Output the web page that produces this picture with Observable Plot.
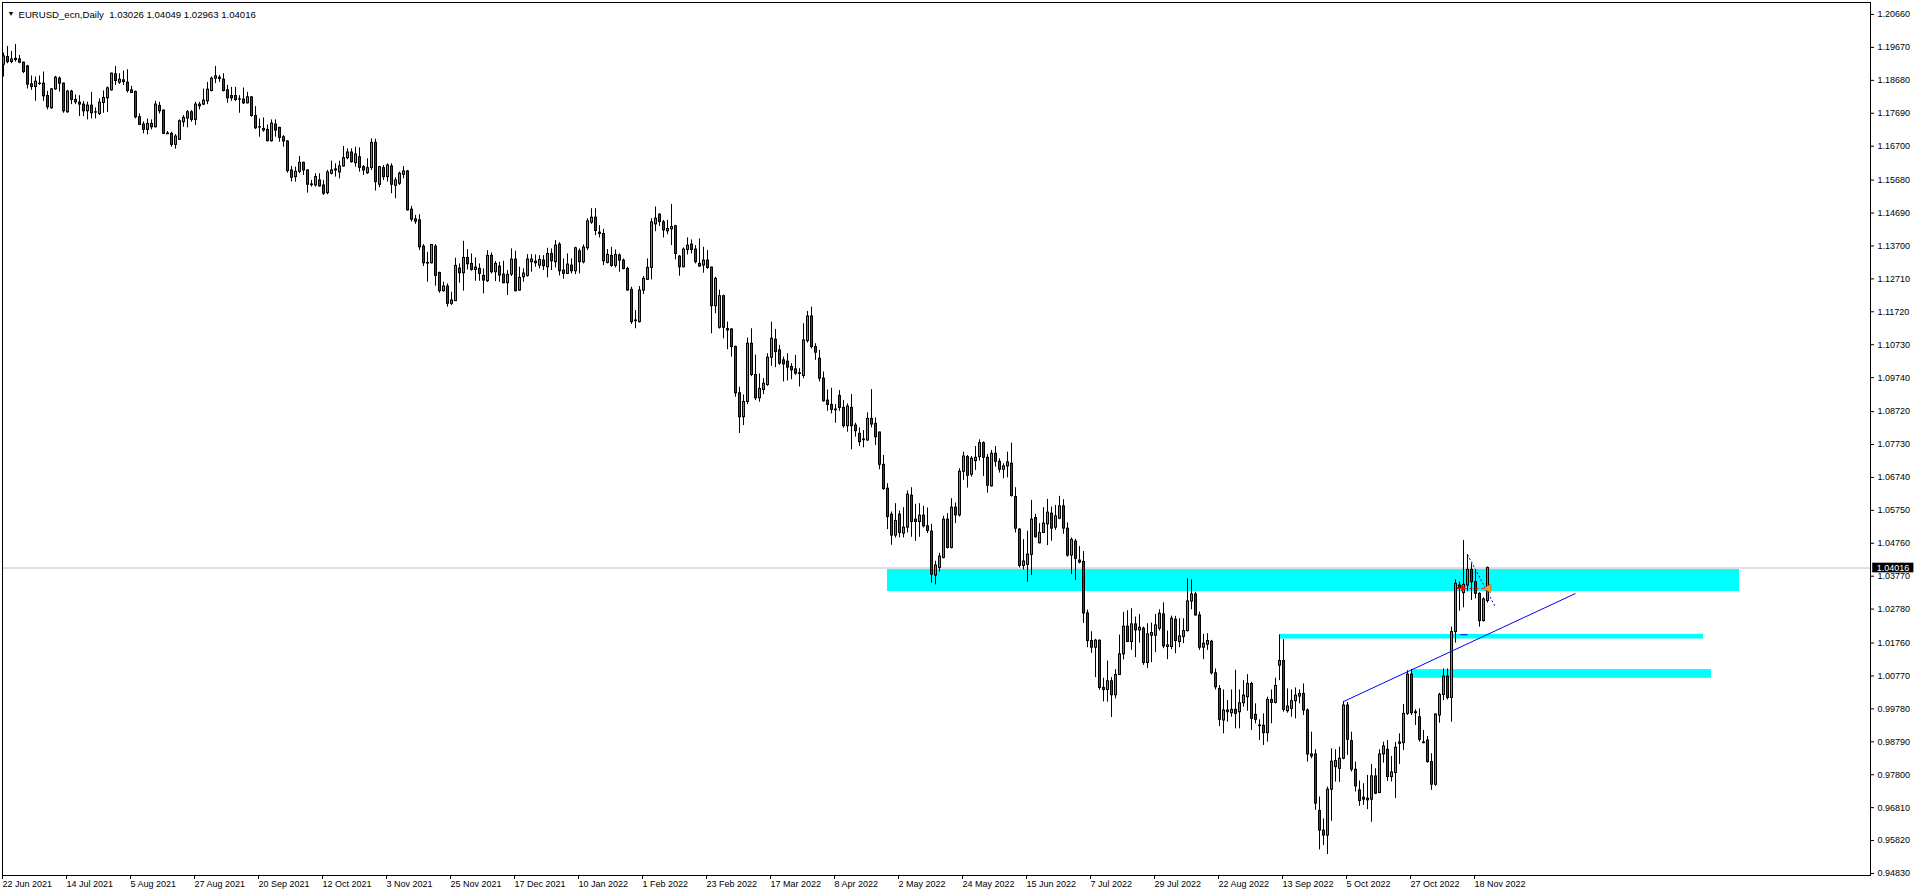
<!DOCTYPE html>
<html><head><meta charset="utf-8">
<script src="https://cdn.jsdelivr.net/npm/d3@7"></script>
<script src="https://cdn.jsdelivr.net/npm/@observablehq/plot@0.6"></script>
<style>
html,body{margin:0;padding:0;background:#fff;overflow:hidden}
svg{display:block}
</style></head><body>
<script>
// Daily EURUSD candles [open, high, low, close], one per trading day from 22 Jun 2021
const ohlc = [
[1.1915,1.1950,1.1878,1.1940],[1.1938,1.1970,1.1918,1.1923],[1.1923,1.1955,1.1918,1.1931],[1.1929,1.1976,1.1923,1.1933],[1.1931,1.1943,1.1918,1.1921],
[1.1921,1.1923,1.1888,1.1893],[1.1910,1.1913,1.1842,1.1855],[1.1856,1.1881,1.1838,1.1848],[1.1848,1.1878,1.1805,1.1864],[1.1858,1.1881,1.1853,1.1857],
[1.1858,1.1893,1.1805,1.1820],[1.1821,1.1835,1.1779,1.1787],[1.1784,1.1843,1.1781,1.1841],[1.1841,1.1880,1.1838,1.1876],[1.1873,1.1878,1.1833,1.1858],
[1.1858,1.1860,1.1769,1.1775],[1.1772,1.1838,1.1769,1.1834],[1.1834,1.1838,1.1795,1.1809],[1.1809,1.1824,1.1795,1.1802],[1.1801,1.1822,1.1759,1.1795],
[1.1795,1.1804,1.1759,1.1775],[1.1775,1.1802,1.1749,1.1792],[1.1792,1.1832,1.1752,1.1769],[1.1772,1.1785,1.1752,1.1771],[1.1767,1.1812,1.1762,1.1801],
[1.1800,1.1836,1.1769,1.1815],[1.1814,1.1848,1.1771,1.1844],[1.1838,1.1890,1.1836,1.1888],[1.1886,1.1910,1.1853,1.1866],[1.1861,1.1888,1.1856,1.1870],
[1.1868,1.1896,1.1853,1.1863],[1.1861,1.1900,1.1830,1.1836],[1.1838,1.1850,1.1828,1.1830],[1.1833,1.1836,1.1752,1.1757],[1.1757,1.1767,1.1732,1.1734],
[1.1735,1.1743,1.1707,1.1719],[1.1719,1.1752,1.1704,1.1737],[1.1737,1.1749,1.1719,1.1727],[1.1727,1.1805,1.1725,1.1795],[1.1791,1.1802,1.1767,1.1775],
[1.1777,1.1779,1.1705,1.1707],[1.1708,1.1714,1.1705,1.1706],[1.1707,1.1712,1.1667,1.1674],[1.1674,1.1705,1.1661,1.1699],[1.1689,1.1749,1.1687,1.1745],
[1.1742,1.1762,1.1727,1.1755],[1.1753,1.1777,1.1725,1.1772],[1.1772,1.1777,1.1742,1.1749],[1.1749,1.1802,1.1732,1.1795],[1.1795,1.1802,1.1779,1.1790],
[1.1795,1.1842,1.1792,1.1807],[1.1805,1.1862,1.1795,1.1840],[1.1836,1.1878,1.1833,1.1873],[1.1873,1.1910,1.1858,1.1880],[1.1876,1.1883,1.1862,1.1872],
[1.1870,1.1888,1.1833,1.1836],[1.1838,1.1853,1.1799,1.1814],[1.1821,1.1847,1.1805,1.1814],[1.1821,1.1847,1.1804,1.1809],[1.1811,1.1822,1.1769,1.1810],
[1.1810,1.1845,1.1795,1.1799],[1.1799,1.1832,1.1797,1.1817],[1.1817,1.1818,1.1757,1.1761],[1.1761,1.1789,1.1720,1.1724],[1.1727,1.1752,1.1697,1.1726],
[1.1717,1.1755,1.1712,1.1722],[1.1719,1.1734,1.1683,1.1685],[1.1685,1.1749,1.1682,1.1738],[1.1735,1.1749,1.1697,1.1717],[1.1725,1.1727,1.1682,1.1695],
[1.1697,1.1702,1.1667,1.1684],[1.1684,1.1687,1.1589,1.1595],[1.1597,1.1609,1.1562,1.1575],[1.1577,1.1607,1.1562,1.1593],[1.1593,1.1639,1.1587,1.1620],
[1.1620,1.1622,1.1582,1.1597],[1.1597,1.1599,1.1529,1.1554],[1.1555,1.1567,1.1547,1.1553],[1.1552,1.1587,1.1547,1.1577],[1.1567,1.1587,1.1547,1.1549],
[1.1552,1.1567,1.1522,1.1527],[1.1529,1.1597,1.1524,1.1591],[1.1587,1.1625,1.1584,1.1597],[1.1597,1.1617,1.1577,1.1600],[1.1591,1.1625,1.1572,1.1609],
[1.1609,1.1669,1.1607,1.1634],[1.1634,1.1662,1.1629,1.1651],[1.1651,1.1662,1.1619,1.1622],[1.1619,1.1667,1.1607,1.1645],[1.1637,1.1665,1.1592,1.1605],
[1.1607,1.1612,1.1582,1.1597],[1.1589,1.1632,1.1585,1.1604],[1.1604,1.1692,1.1597,1.1680],[1.1680,1.1691,1.1535,1.1562],[1.1554,1.1609,1.1545,1.1607],
[1.1604,1.1612,1.1567,1.1577],[1.1577,1.1617,1.1562,1.1612],[1.1609,1.1617,1.1527,1.1554],[1.1551,1.1575,1.1512,1.1567],[1.1557,1.1592,1.1552,1.1587],
[1.1584,1.1609,1.1572,1.1594],[1.1594,1.1597,1.1475,1.1477],[1.1479,1.1489,1.1442,1.1449],[1.1450,1.1462,1.1435,1.1443],[1.1447,1.1464,1.1356,1.1366],
[1.1368,1.1374,1.1308,1.1318],[1.1319,1.1351,1.1261,1.1317],[1.1318,1.1374,1.1316,1.1373],[1.1368,1.1374,1.1249,1.1280],[1.1289,1.1291,1.1228,1.1234],
[1.1234,1.1261,1.1231,1.1248],[1.1248,1.1256,1.1186,1.1196],[1.1196,1.1231,1.1191,1.1206],[1.1204,1.1333,1.1203,1.1310],[1.1302,1.1316,1.1258,1.1288],
[1.1288,1.1384,1.1234,1.1334],[1.1334,1.1359,1.1298,1.1315],[1.1316,1.1346,1.1294,1.1298],[1.1298,1.1334,1.1264,1.1305],[1.1301,1.1316,1.1264,1.1286],
[1.1280,1.1301,1.1226,1.1266],[1.1264,1.1356,1.1260,1.1340],[1.1340,1.1349,1.1286,1.1291],[1.1291,1.1323,1.1263,1.1316],[1.1308,1.1321,1.1261,1.1281],
[1.1284,1.1324,1.1256,1.1258],[1.1258,1.1296,1.1221,1.1283],[1.1284,1.1361,1.1278,1.1329],[1.1329,1.1354,1.1232,1.1234],[1.1236,1.1306,1.1234,1.1274],
[1.1276,1.1301,1.1261,1.1287],[1.1280,1.1344,1.1276,1.1329],[1.1321,1.1344,1.1291,1.1329],[1.1323,1.1343,1.1306,1.1318],[1.1311,1.1341,1.1301,1.1328],
[1.1326,1.1341,1.1296,1.1309],[1.1306,1.1363,1.1274,1.1346],[1.1346,1.1361,1.1296,1.1324],[1.1321,1.1386,1.1304,1.1371],[1.1374,1.1380,1.1280,1.1294],
[1.1296,1.1331,1.1270,1.1286],[1.1286,1.1346,1.1284,1.1314],[1.1311,1.1331,1.1286,1.1294],[1.1294,1.1366,1.1284,1.1363],[1.1354,1.1361,1.1286,1.1321],
[1.1321,1.1373,1.1316,1.1365],[1.1363,1.1452,1.1356,1.1444],[1.1440,1.1482,1.1435,1.1455],[1.1455,1.1482,1.1401,1.1415],[1.1410,1.1431,1.1394,1.1406],
[1.1406,1.1420,1.1311,1.1324],[1.1319,1.1359,1.1316,1.1343],[1.1340,1.1366,1.1306,1.1310],[1.1310,1.1358,1.1304,1.1343],[1.1341,1.1346,1.1291,1.1326],
[1.1326,1.1331,1.1298,1.1301],[1.1301,1.1306,1.1234,1.1236],[1.1238,1.1246,1.1134,1.1141],[1.1144,1.1176,1.1121,1.1146],[1.1141,1.1248,1.1138,1.1236],
[1.1236,1.1278,1.1224,1.1271],[1.1268,1.1331,1.1266,1.1304],[1.1304,1.1452,1.1268,1.1441],[1.1435,1.1487,1.1413,1.1452],[1.1464,1.1467,1.1429,1.1442],
[1.1441,1.1447,1.1394,1.1417],[1.1414,1.1447,1.1404,1.1421],[1.1420,1.1495,1.1371,1.1427],[1.1429,1.1432,1.1328,1.1346],[1.1338,1.1341,1.1279,1.1306],
[1.1306,1.1364,1.1304,1.1359],[1.1358,1.1394,1.1343,1.1371],[1.1374,1.1388,1.1346,1.1358],[1.1359,1.1371,1.1316,1.1321],[1.1316,1.1391,1.1306,1.1308],
[1.1311,1.1366,1.1288,1.1326],[1.1326,1.1356,1.1300,1.1304],[1.1305,1.1306,1.1106,1.1189],[1.1189,1.1276,1.1166,1.1271],[1.1124,1.1237,1.1120,1.1219],
[1.1219,1.1222,1.1091,1.1124],[1.1120,1.1141,1.1058,1.1116],[1.1119,1.1121,1.1036,1.1066],[1.1066,1.1069,1.0915,1.0927],[1.0927,1.0945,1.0806,1.0855],
[1.0855,1.0922,1.0830,1.0901],[1.0901,1.1093,1.0893,1.1076],[1.1076,1.1121,1.0977,1.0982],[1.0982,1.1042,1.0905,1.0912],[1.0912,1.0985,1.0900,1.0940],
[1.0937,1.0971,1.0923,1.0956],[1.0952,1.1046,1.0948,1.1034],[1.1034,1.1141,1.1008,1.1091],[1.1088,1.1119,1.1004,1.1051],[1.1056,1.1071,1.1011,1.1016],
[1.1026,1.1036,1.0961,1.1014],[1.1022,1.1046,1.0964,1.1004],[1.1006,1.1016,1.0968,1.0996],[1.0999,1.1041,1.0981,1.0986],[1.0985,1.1001,1.0946,1.0987],
[1.0979,1.1136,1.0971,1.1086],[1.1084,1.1173,1.1078,1.1158],[1.1158,1.1186,1.1060,1.1066],[1.1066,1.1076,1.1026,1.1049],[1.1031,1.1056,1.0961,1.0971],
[1.0971,1.0991,1.0900,1.0903],[1.0905,1.0937,1.0873,1.0892],[1.0892,1.0942,1.0865,1.0877],[1.0878,1.0893,1.0837,1.0876],[1.0919,1.0935,1.0873,1.0883],
[1.0883,1.0905,1.0822,1.0828],[1.0828,1.0895,1.0810,1.0887],[1.0883,1.0923,1.0757,1.0828],[1.0830,1.0837,1.0795,1.0813],[1.0805,1.0823,1.0767,1.0780],
[1.0786,1.0815,1.0763,1.0788],[1.0785,1.0868,1.0783,1.0850],[1.0850,1.0938,1.0823,1.0833],[1.0835,1.0853,1.0770,1.0795],[1.0809,1.0810,1.0697,1.0712],
[1.0712,1.0740,1.0635,1.0639],[1.0640,1.0655,1.0517,1.0555],[1.0562,1.0570,1.0470,1.0499],[1.0499,1.0595,1.0492,1.0543],[1.0562,1.0573,1.0492,1.0507],
[1.0505,1.0583,1.0492,1.0523],[1.0523,1.0633,1.0507,1.0622],[1.0619,1.0643,1.0494,1.0540],[1.0547,1.0593,1.0482,1.0540],[1.0540,1.0595,1.0494,1.0559],
[1.0559,1.0587,1.0522,1.0527],[1.0527,1.0582,1.0505,1.0513],[1.0511,1.0533,1.0356,1.0382],[1.0379,1.0422,1.0351,1.0409],[1.0402,1.0446,1.0389,1.0436],
[1.0432,1.0557,1.0429,1.0547],[1.0547,1.0565,1.0459,1.0462],[1.0462,1.0610,1.0459,1.0583],[1.0583,1.0597,1.0535,1.0560],[1.0560,1.0700,1.0555,1.0691],
[1.0691,1.0750,1.0665,1.0737],[1.0735,1.0740,1.0642,1.0679],[1.0682,1.0737,1.0675,1.0730],[1.0723,1.0767,1.0695,1.0733],[1.0735,1.0787,1.0723,1.0777],
[1.0777,1.0781,1.0677,1.0733],[1.0733,1.0743,1.0627,1.0649],[1.0647,1.0755,1.0645,1.0745],[1.0745,1.0767,1.0705,1.0721],[1.0721,1.0730,1.0687,1.0697],
[1.0697,1.0715,1.0670,1.0707],[1.0707,1.0750,1.0673,1.0719],[1.0715,1.0777,1.0615,1.0618],[1.0615,1.0643,1.0507,1.0520],[1.0517,1.0520,1.0402,1.0408],
[1.0408,1.0487,1.0396,1.0421],[1.0411,1.0512,1.0359,1.0442],[1.0441,1.0605,1.0379,1.0547],[1.0552,1.0563,1.0492,1.0494],[1.0476,1.0535,1.0474,1.0507],
[1.0507,1.0583,1.0505,1.0535],[1.0533,1.0608,1.0469,1.0568],[1.0565,1.0585,1.0482,1.0520],[1.0523,1.0590,1.0515,1.0557],[1.0550,1.0617,1.0547,1.0587],
[1.0587,1.0607,1.0503,1.0520],[1.0520,1.0537,1.0434,1.0439],[1.0439,1.0492,1.0382,1.0486],[1.0481,1.0488,1.0364,1.0429],[1.0424,1.0466,1.0414,1.0418],
[1.0420,1.0451,1.0235,1.0265],[1.0265,1.0275,1.0162,1.0182],[1.0182,1.0210,1.0145,1.0162],[1.0162,1.0187,1.0072,1.0183],[1.0183,1.0185,1.0034,1.0041],
[1.0041,1.0070,0.9999,1.0035],[1.0035,1.0122,0.9998,1.0061],[1.0061,1.0072,0.9952,1.0019],[1.0019,1.0096,1.0008,1.0080],[1.0080,1.0200,1.0080,1.0142],
[1.0142,1.0268,1.0125,1.0225],[1.0225,1.0273,1.0180,1.0179],[1.0179,1.0279,1.0154,1.0232],[1.0232,1.0254,1.0132,1.0214],[1.0214,1.0262,1.0176,1.0222],
[1.0219,1.0224,1.0109,1.0116],[1.0116,1.0234,1.0099,1.0202],[1.0198,1.0236,1.0117,1.0206],[1.0198,1.0262,1.0147,1.0229],[1.0219,1.0276,1.0212,1.0264],
[1.0262,1.0297,1.0159,1.0166],[1.0164,1.0212,1.0126,1.0169],[1.0164,1.0257,1.0156,1.0249],[1.0246,1.0256,1.0144,1.0182],[1.0179,1.0249,1.0162,1.0196],
[1.0194,1.0249,1.0174,1.0212],[1.0212,1.0369,1.0209,1.0301],[1.0301,1.0366,1.0276,1.0322],[1.0322,1.0329,1.0257,1.0259],[1.0259,1.0269,1.0154,1.0162],
[1.0162,1.0202,1.0126,1.0174],[1.0171,1.0204,1.0154,1.0182],[1.0180,1.0184,1.0080,1.0085],[1.0085,1.0098,1.0035,1.0043],[1.0038,1.0048,0.9925,0.9945],
[0.9943,1.0035,0.9903,0.9973],[0.9968,1.0003,0.9938,0.9973],[0.9965,1.0035,0.9953,0.9975],[0.9975,1.0094,0.9918,0.9963],[0.9968,1.0035,0.9918,0.9995],
[0.9995,1.0063,0.9983,1.0018],[1.0013,1.0081,0.9971,1.0053],[1.0053,1.0058,0.9913,0.9948],[0.9960,0.9993,0.9933,0.9945],[0.9928,0.9945,0.9883,0.9926],
[0.9927,0.9963,0.9868,0.9905],[0.9905,1.0013,0.9878,1.0005],[1.0005,1.0035,0.9933,0.9996],[0.9996,1.0070,0.9993,1.0047],[1.0108,1.0200,1.0063,1.0122],
[1.0122,1.0186,0.9968,0.9975],[0.9971,1.0038,0.9965,0.9985],[0.9978,1.0035,0.9953,1.0001],[1.0001,1.0041,0.9948,1.0018],[1.0015,1.0035,0.9993,1.0023],
[1.0023,1.0053,0.9958,0.9973],[0.9973,0.9978,0.9818,0.9841],[0.9841,0.9908,0.9828,0.9835],[0.9841,0.9855,0.9673,0.9693],[0.9671,0.9713,0.9554,0.9612],
[0.9612,0.9647,0.9567,0.9597],[0.9597,0.9743,0.9540,0.9735],[0.9735,0.9858,0.9640,0.9819],[0.9803,0.9855,0.9758,0.9821],[0.9798,0.9863,0.9757,0.9828],
[0.9828,1.0000,0.9825,0.9988],[0.9988,0.9997,0.9838,0.9885],[0.9881,0.9908,0.9788,0.9795],[0.9795,0.9818,0.9728,0.9745],[0.9733,0.9761,0.9685,0.9701],
[0.9711,0.9753,0.9688,0.9705],[0.9708,0.9778,0.9675,0.9703],[0.9705,0.9811,0.9637,0.9775],[0.9775,0.9798,0.9720,0.9723],[0.9725,0.9855,0.9723,0.9841],
[0.9841,0.9878,0.9815,0.9865],[0.9855,0.9883,0.9760,0.9773],[0.9773,0.9835,0.9758,0.9787],[0.9785,0.9877,0.9708,0.9861],[0.9873,0.9903,0.9811,0.9877],
[0.9875,0.9991,0.9853,0.9963],[0.9963,1.0093,0.9958,1.0081],[1.0081,1.0096,0.9958,0.9965],[0.9968,0.9975,0.9928,0.9965],[0.9953,0.9978,0.9878,0.9885],
[0.9877,0.9913,0.9873,0.9875],[0.9883,0.9895,0.9815,0.9818],[0.9818,0.9843,0.9733,0.9750],[0.9750,0.9963,0.9745,0.9961],[0.9958,1.0025,0.9935,1.0020],
[1.0020,1.0098,1.0003,1.0075],[1.0075,1.0098,1.0005,1.0011],[1.0011,1.0224,0.9938,1.0209],[1.0209,1.0366,1.0176,1.0354],[1.0349,1.0359,1.0272,1.0342],
[1.0326,1.0484,1.0282,1.0351],[1.0349,1.0442,1.0330,1.0396],[1.0396,1.0414,1.0304,1.0359],[1.0359,1.0396,1.0309,1.0324],[1.0324,1.0327,1.0224,1.0242],
[1.0242,1.0312,1.0239,1.0307],[1.03026,1.04049,1.02963,1.04016]
];
const firstDay = "2021-06-22";
const xTickLabels = ["22 Jun 2021","14 Jul 2021","5 Aug 2021","27 Aug 2021","20 Sep 2021","12 Oct 2021","3 Nov 2021","25 Nov 2021","17 Dec 2021","10 Jan 2022","1 Feb 2022","23 Feb 2022","17 Mar 2022","8 Apr 2022","2 May 2022","24 May 2022","15 Jun 2022","7 Jul 2022","29 Jul 2022","22 Aug 2022","13 Sep 2022","5 Oct 2022","27 Oct 2022","18 Nov 2022"];
const yTickValues = [1.20660,1.19670,1.18680,1.17690,1.16700,1.15680,1.14690,1.13700,1.12710,1.11720,1.10730,1.09740,1.08720,1.07730,1.06740,1.05750,1.04760,1.03770,1.02780,1.01760,1.00770,0.99780,0.98790,0.97800,0.96810,0.95820,0.94830];
const lastPrice = 1.04016;
const symbolTitle = "EURUSD_ecn,Daily  1.03026 1.04049 1.02963 1.04016";
// support/resistance rectangles: bar index range and price range
const zoneStart = [221, 319, 352];
const zoneEnd = [434, 425, 427];
const zoneLow = [1.0331, 1.0188, 1.0070];
const zoneHigh = [1.0397, 1.0202, 1.0096];
// trend lines: [bar1, price1, bar2, price2]
const trendSolid = [[335, 1.0000, 393, 1.0325], [364.2, 1.0201, 366, 1.0201]];
const trendDotted = [[366, 1.0442, 372.9, 1.0286]];
// trade marks
const tradeOpen = {bar: 365, price: 1.0340};
const tradeClose = {bar: 371.2, price: 1.0340};

const GREEN = "#3cb03c", RED = "#dd0000";
const font = "'Liberation Sans', Arial, sans-serif";

// trading-day calendar
const dates = [];
{
  let d = new Date(firstDay + "T00:00:00Z");
  while (dates.length < ohlc.length) {
    const wd = d.getUTCDay();
    if (wd !== 0 && wd !== 6) dates.push(new Date(d));
    d = new Date(d.getTime() + 86400000);
  }
}
const parse = d3.utcParse("%e %b %Y");
const tickIndex = xTickLabels.map(s => {
  const t = parse(s).getTime();
  return dates.findIndex(d => d.getTime() === t);
});
const labelOf = new Map(tickIndex.map((i, k) => [i, xTickLabels[k]]));

const bars = ohlc.map(([o, h, l, c], i) => ({i, o, h, l, c, up: c >= o, top: Math.max(o, c), bot: Math.min(o, c)}));
const zones = zoneStart.map((s, k) => ({s, e: zoneEnd[k], lo: zoneLow[k], hi: zoneHigh[k]}));
const toSeg = a => ({x1: a[0], y1: a[1], x2: a[2], y2: a[3]});

const chart = Plot.plot({
  width: 1916, height: 896,
  marginLeft: 2, marginRight: 46, marginTop: 2, marginBottom: 21,
  style: {fontFamily: font, fontSize: "9px", color: "#000", background: "#fff"},
  x: {type: "linear", domain: [-0.25, 466.75], axis: null},
  y: {type: "linear", domain: [0.947697, 1.210208], axis: null},
  marks: [
    Plot.rect(zones, {x1: "s", x2: "e", y1: "lo", y2: "hi", fill: "#00ffff"}),
    Plot.ruleY([lastPrice], {stroke: "#c0c0c0"}),
    // wicks
    Plot.ruleX(bars, {x: "i", y1: d => Math.max(d.h, d.top), y2: d => Math.min(d.l, d.bot), stroke: "#000", strokeWidth: 1}),
    // body outline (3px) and body fill (1px)
    Plot.ruleX(bars, {x: "i", y1: "top", y2: "bot", stroke: "#000", strokeWidth: 3, insetTop: -0.5, insetBottom: -0.5, strokeLinecap: "butt"}),
    Plot.ruleX(bars.filter(d => d.top - d.bot > 0.0004), {x: "i", y1: "top", y2: "bot", stroke: d => d.up ? GREEN : RED, strokeWidth: 1, insetTop: 0.5, insetBottom: 0.5, strokeLinecap: "butt"}),
    Plot.link(trendSolid.map(toSeg), {x1: "x1", y1: "y1", x2: "x2", y2: "y2", stroke: "#0000ff", strokeWidth: 1}),
    Plot.link(trendDotted.map(toSeg), {x1: "x1", y1: "y1", x2: "x2", y2: "y2", stroke: "#0000ff", strokeWidth: 1, strokeDasharray: "2,2"}),
    Plot.link([tradeOpen], {x1: "bar", x2: () => tradeClose.bar, y1: "price", y2: "price", stroke: "#ff0000", strokeDasharray: "3,3"}),
    Plot.text([tradeOpen], {x: "bar", y: "price", text: () => "➜", fill: "#ff0000", stroke: "#800000", strokeWidth: 0.3, fontSize: 12, textAnchor: "end", dx: 2}),
    Plot.dot([tradeClose], {x: "bar", y: "price", symbol: "triangle", r: 3.4, rotate: -90, fill: "#f0a020", stroke: "#a06000", strokeWidth: 0.5}),
    Plot.frame({stroke: "#000"}),
    Plot.axisX({ticks: tickIndex, tickFormat: i => labelOf.get(i), anchor: "bottom", tickSize: 4, tickPadding: 1, textAnchor: "start", dx: -1, fontSize: 9, stroke: "#000"}),
    Plot.axisY({ticks: yTickValues, tickFormat: d => d.toFixed(5), anchor: "right", tickSize: 3, tickPadding: 4, fontSize: 9, stroke: "#000"}),
    Plot.rect([lastPrice], {x1: 467.3, x2: 477.6, y1: d => d - 0.00145, y2: d => d + 0.00145, fill: "#000"}),
    Plot.text([lastPrice], {x: 467.3, y: d => d, text: d => d.toFixed(5), fill: "#fff", textAnchor: "start", dx: 4, fontSize: 9}),
    Plot.text(["▼"], {frameAnchor: "top-left", dx: 5, dy: 9, fontSize: 7, textAnchor: "start", fill: "#000"}),
    Plot.text([symbolTitle], {frameAnchor: "top-left", dx: 16, dy: 9, fontSize: 9.6, textAnchor: "start", fill: "#000"})
  ]
});
document.body.appendChild(chart);
</script>
</body></html>
